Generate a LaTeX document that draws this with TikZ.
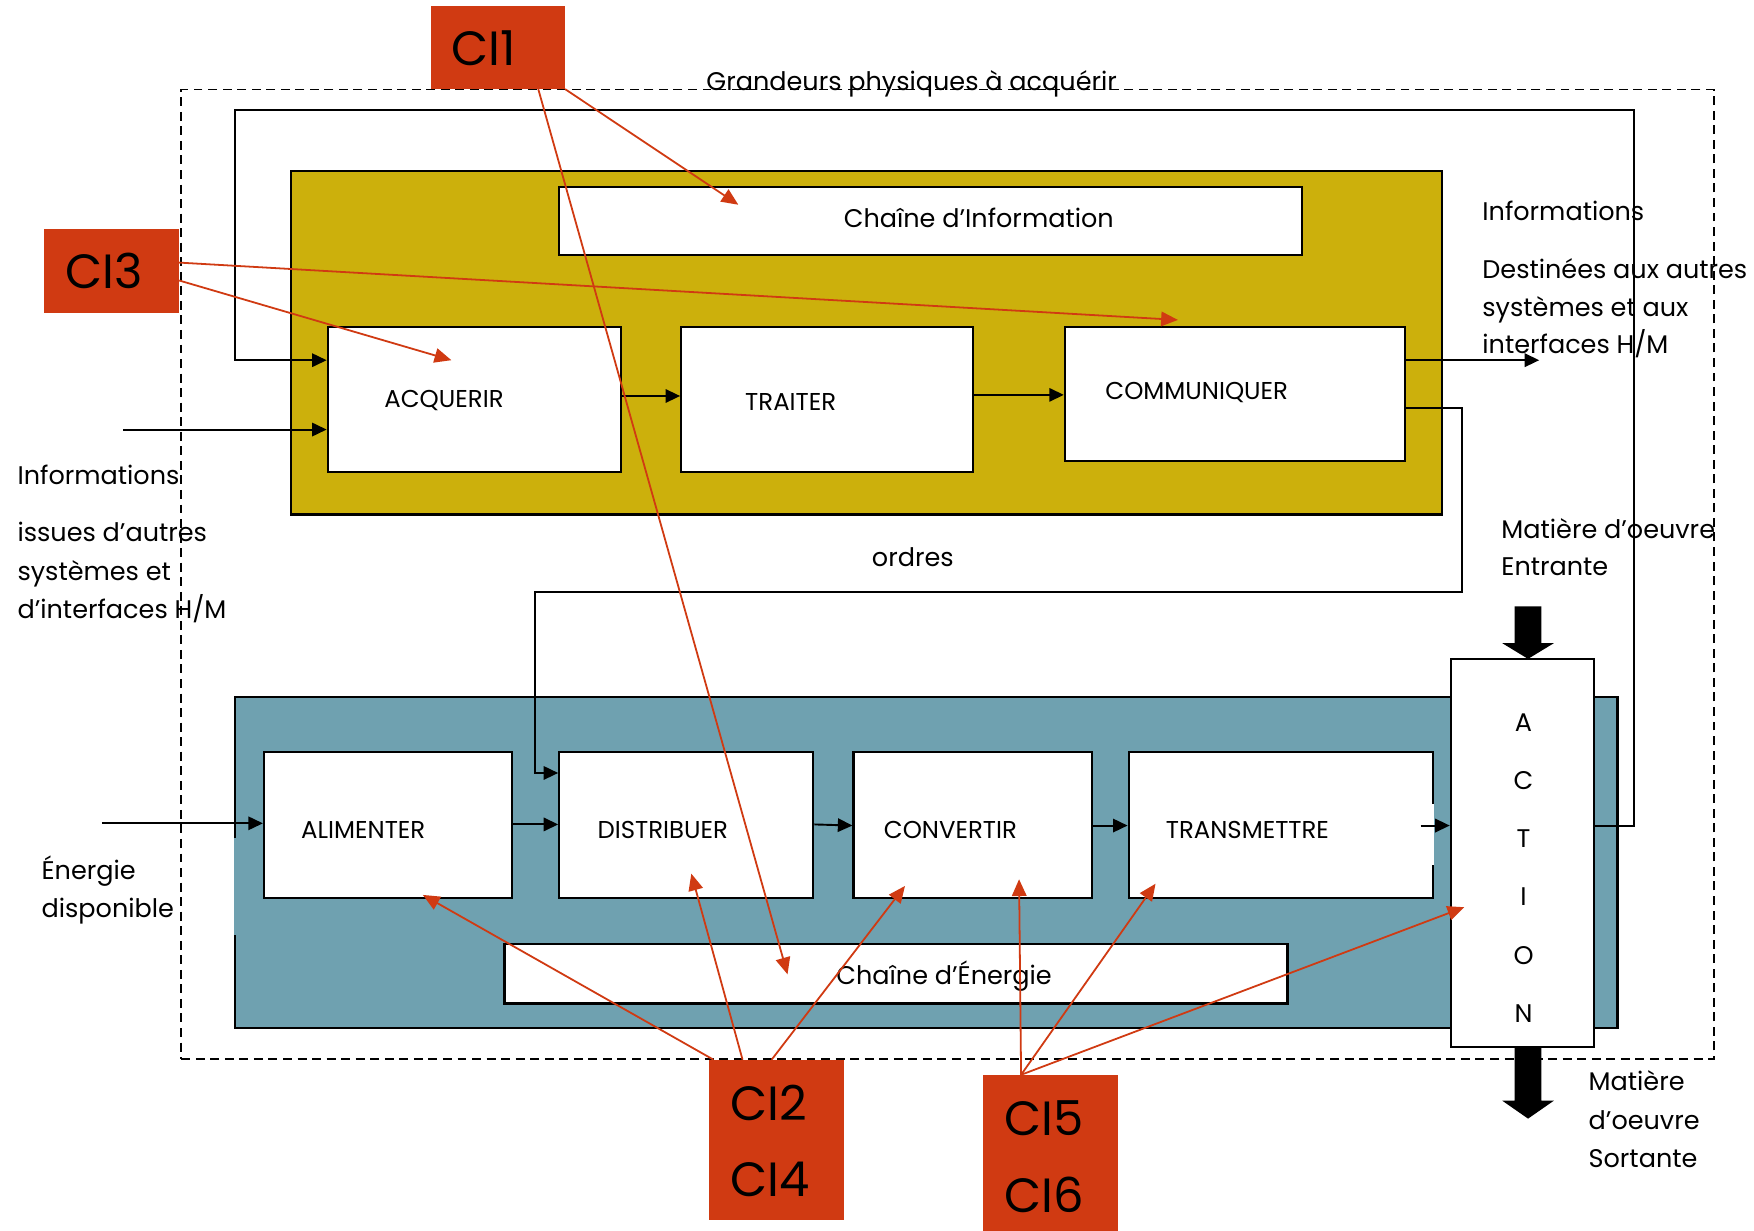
\documentclass[tikz,border=0pt]{standalone}
\usepackage{fontspec}
\setmainfont{Poppins}
\usetikzlibrary{arrows.meta,fit,calc}
\definecolor{ciorange}{RGB}{208,58,18}
\definecolor{infoyellow}{RGB}{204,176,12}
\definecolor{energyblue}{RGB}{111,161,176}
\tikzset{
  panel/.style={draw=black, line width=2pt, inner sep=0pt},
  whitebox/.style={draw=black, fill=white, line width=2pt, inner sep=0pt},
  cibox/.style={fill=ciorange, inner sep=0pt},
  lbl/.style={inner sep=0pt, font=\fontsize{22.8}{22.8}\selectfont, anchor=base west},
  boxlbl/.style={inner sep=0pt, font=\fontsize{21.8}{21.8}\selectfont, anchor=base west},
  citxt/.style={inner sep=0pt, font=\fontsize{43}{43}\selectfont, anchor=base west},
  conn/.style={line width=1.7pt, -{Triangle[length=13pt,width=12pt]}},
  ciarrow/.style={draw=ciorange, line width=1.6pt, -{Triangle[length=15pt,width=13pt]}},
  dashframe/.style={draw=black, line width=1.6pt, dash pattern=on 8pt off 5pt, inner sep=0pt},
}
\begin{document}
\begin{tikzpicture}[x=1pt,y=-1pt]
\useasboundingbox (0,0) rectangle (1568,1100);

% panels
\node[panel, fill=infoyellow, fit={(260,153) (1289,460)}] (info) {};
\node[panel, fill=energyblue, fit={(210,623) (1446,919)}] (energy) {};
\draw[energyblue, line width=2.2pt] (210,749) -- (210,836);

% feedback loop (grandeurs physiques)
\node[whitebox, fit={(1297,589) (1425,936)}] (act) {};
\node[whitebox, fit={(293,292) (555,422)}] (acq) {};
\draw[conn] (act.east |- 0,738) -- (1461,738) -- (1461,98) -- (210,98) -- (210,322) -- (acq.west |- 0,322);

% boxes
\node[whitebox, fit={(500,167) (1164,228)}] (chinfo) {};
\node[whitebox, fit={(609,292) (870,422)}] (trait) {};
\node[whitebox, fit={(952,292) (1256,412)}] (comm) {};
\node[whitebox, fit={(236,672) (458,803)}] (alim) {};
\node[whitebox, fit={(500,672) (727,803)}] (dist) {};
\node[whitebox, fit={(763,672) (976,803)}] (conv) {};
\node[whitebox, fit={(1009,672) (1281,803)}] (trans) {};
\draw[white, line width=2.2pt] (1281,719) -- (1281,773);
\node[whitebox, fit={(451,844) (1151,897)}] (chener) {};

% connectors
\coordinate (infoin) at (110,384);
\coordinate (infoout) at (1376,322);
\coordinate (enin) at (91,736);
\coordinate (transout) at (1270,738);
\draw[conn] (infoin) -- (acq.west |- infoin);
\draw[conn] (acq.east |- 0,354) -- (trait.west |- 0,354);
\draw[conn] (trait.east |- 0,353) -- (comm.west |- 0,353);
\draw[conn] (comm.east |- infoout) -- (infoout);
\draw[conn] (comm.east |- 0,365) -- (1307,365) -- (1307,529) -- (478,529) -- (478,691) -- (dist.west |- 0,691);
\draw[conn] (enin) -- (alim.west |- enin);
\draw[conn] (alim.east |- 0,737) -- (dist.west |- 0,737);
\draw[conn] (dist.east |- 0,737) -- (conv.west |- 0,738);
\draw[conn] (conv.east |- 0,738) -- (trans.west |- 0,738);
\draw[conn] (transout) -- (act.west |- transout);

% big matter arrows
\fill (1354,542) -- (1378,542) -- (1378,575) -- (1389,575) -- (1366,589) -- (1343,575) -- (1354,575) -- cycle;
\fill (1354,936) -- (1378,936) -- (1378,984) -- (1389,984) -- (1366,1000) -- (1343,984) -- (1354,984) -- cycle;

% box labels
\node[lbl, anchor=base] (tchinfo) at (875,203) {Chaîne d’Information};
\node[lbl, anchor=base] (tchener) at (844,880) {Chaîne d’Énergie};
\node[boxlbl] (tacq) at (343.5,364.5) {ACQUERIR};
\node[boxlbl] (ttrait) at (666,367) {TRAITER};
\node[boxlbl] (tcomm) at (988,357.5) {COMMUNIQUER};
\node[boxlbl] (talim) at (269,749.5) {ALIMENTER};
\node[boxlbl] (tdist) at (534,749.5) {DISTRIBUER};
\node[boxlbl] (tconv) at (790,749.5) {CONVERTIR};
\node[boxlbl] (ttrans) at (1042,749.5) {TRANSMETTRE};
\node[inner sep=0pt, font=\fontsize{22.8}{52}\selectfont, align=center] (tact) at (1362,776) {A\\C\\T\\I\\O\\N};

% free labels
\node[lbl, anchor=base] (tgrand) at (815,80.5) {Grandeurs physiques à acquérir};
\node[lbl, anchor=base] (tordres) at (816,506) {ordres};
\node[lbl] (tir1) at (1325,197) {Informations};
\node[lbl] (tir2) at (1325,249) {Destinées aux autres};
\node[lbl] (tir3) at (1325,282.5) {systèmes et aux};
\node[lbl] (tir4) at (1325,316) {interfaces H/M};
\node[lbl] (tme1) at (1342,481) {Matière d’oeuvre};
\node[lbl] (tme2) at (1342,514.5) {Entrante};
\node[lbl] (tms1) at (1420,975) {Matière};
\node[lbl] (tms2) at (1420,1009.5) {d’oeuvre};
\node[lbl] (tms3) at (1420,1043.5) {Sortante};
\node[lbl] (til1) at (15.5,433.5) {Informations};
\node[lbl] (til2) at (15.5,484.5) {issues d’autres};
\node[lbl] (til3) at (15.5,518.5) {systèmes et};
\node[lbl] (til4) at (15.5,553) {d’interfaces H/M};
\node[lbl] (ten1) at (37,786) {Énergie};
\node[lbl] (ten2) at (37,820) {disponible};

% CI boxes
\node[cibox, fit={(385,5.5) (505,79.5)}] (ci1) {};
\node[cibox, fit={(39,205) (160,279.5)}] (ci3) {};
\node[cibox, fit={(634,947.5) (754.5,1091)}] (ci24) {};
\node[cibox, fit={(879,961) (999.5,1100)}] (ci56) {};
\node[citxt] (tci1) at (403.5,59) {CI1};
\node[citxt] (tci3) at (58,258) {CI3};
\node[citxt] (tci2) at (653,1002) {CI2};
\node[citxt] (tci4) at (653,1070) {CI4};
\node[citxt] (tci5) at (898,1015) {CI5};
\node[citxt] (tci6) at (898,1084) {CI6};

% dashed frame
\node[dashframe, fit={(162,80) (1532,947)}] (frame) {};

% red targets
\coordinate (r1) at (660,183);
\coordinate (r2) at (704,871);
\coordinate (r3) at (1053,286);
\coordinate (r4) at (403.5,322);
\coordinate (r5) at (378,800);
\coordinate (r6) at (618,781);
\coordinate (r7) at (809,792);
\coordinate (r8) at (911,786);
\coordinate (r9) at (1033,790);
\coordinate (r10) at (1309,811);

\draw[ciarrow] (ci1.south east) -- (r1);
\draw[ciarrow] ([xshift=-24pt]ci1.south east) -- (r2);
\draw[ciarrow] ([yshift=7.5pt]ci3.east) -- (r3);
\draw[ciarrow] ([yshift=-8.5pt]ci3.east) -- (r4);
\draw[ciarrow] ([xshift=4pt]ci24.north west) -- (r5);
\draw[ciarrow] ([xshift=30pt]ci24.north west) -- (r6);
\draw[ciarrow] ([xshift=56pt]ci24.north west) -- (r7);
\draw[ciarrow] ([xshift=34pt]ci56.north west) -- (r8);
\draw[ciarrow] ([xshift=34pt]ci56.north west) -- (r9);
\draw[ciarrow] ([xshift=34pt]ci56.north west) -- (r10);
\end{tikzpicture}
\end{document}
